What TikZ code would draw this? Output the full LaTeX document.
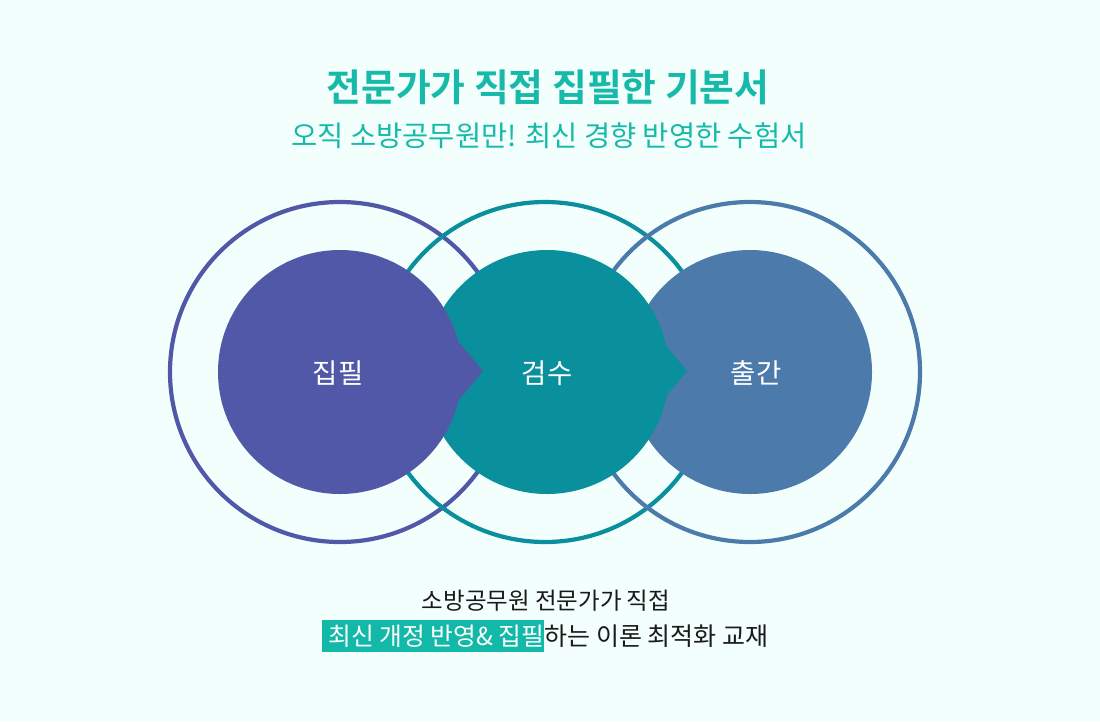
\documentclass[tikz,border=0pt]{standalone}
\usepackage{fontspec}
\newfontfamily\kr{Noto Sans CJK KR}
\newfontfamily\krb{Noto Sans CJK KR Bold}
\definecolor{bg}{HTML}{F3FFFD}
\definecolor{cpurple}{HTML}{5158A8}
\definecolor{cteal}{HTML}{0A8F9C}
\definecolor{cblue}{HTML}{4C7AAA}
\definecolor{ctitle}{HTML}{17BAA8}
\definecolor{chl}{HTML}{12B8A8}
\definecolor{ctext}{HTML}{1A1A1A}
\tikzset{
  ring/.style={line width=4.2pt},
  label/.style={text=white, font=\kr\fontsize{27.5}{30}\selectfont, inner sep=0},
}
\begin{document}
\begin{tikzpicture}[x=1pt,y=-1pt]
\fill[bg] (0,0) rectangle (1100,721);
\useasboundingbox (0,0) rectangle (1100,721);
% titles
\node[text=ctitle, font=\krb\fontsize{37.8}{42}\selectfont, inner sep=0] (title) at (548,87) {전문가가 직접 집필한 기본서};
\node[text=ctitle, font=\kr\fontsize{28.5}{32}\selectfont, inner sep=0] (sub) at (549,136) {오직 소방공무원만! 최신 경향 반영한 수험서};
% outer rings
\draw[ring, cpurple] (340,372) circle (170);
\draw[ring, cteal] (545,372) circle (170);
\draw[ring, cblue] (750,372) circle (170);
% inner discs
\fill[cblue] (750,372) circle (122);
\fill[cteal] (547,372) circle (122);
\fill[cteal] (663,342) -- (687,371) -- (663,400) -- cycle;
\fill[cpurple] (340,372) circle (122);
\fill[cpurple] (459,342) -- (483,371) -- (459,400) -- cycle;
% labels
\node[label] (a) at (338,373) {집필};
\node[label] (b) at (547,373) {검수};
\node[label] (c) at (756,373) {출간};
% bottom text
\node[text=ctext, font=\kr\fontsize{23.5}{26}\selectfont, inner sep=0] (l1) at (546,601) {소방공무원 전문가가 직접};
\node[fill=chl, text=white, font=\kr\fontsize{24.8}{26}\selectfont, inner sep=0, minimum height=32, anchor=north west] (hl) at (322,620) {\hspace{6pt}\makebox[216pt][l]{최신 개정 반영\& 집필}};
\node[text=ctext, font=\kr\fontsize{25}{26}\selectfont, inner sep=0, anchor=west] (rest) at (hl.east) {하는 이론 최적화 교재};
\end{tikzpicture}
\end{document}
